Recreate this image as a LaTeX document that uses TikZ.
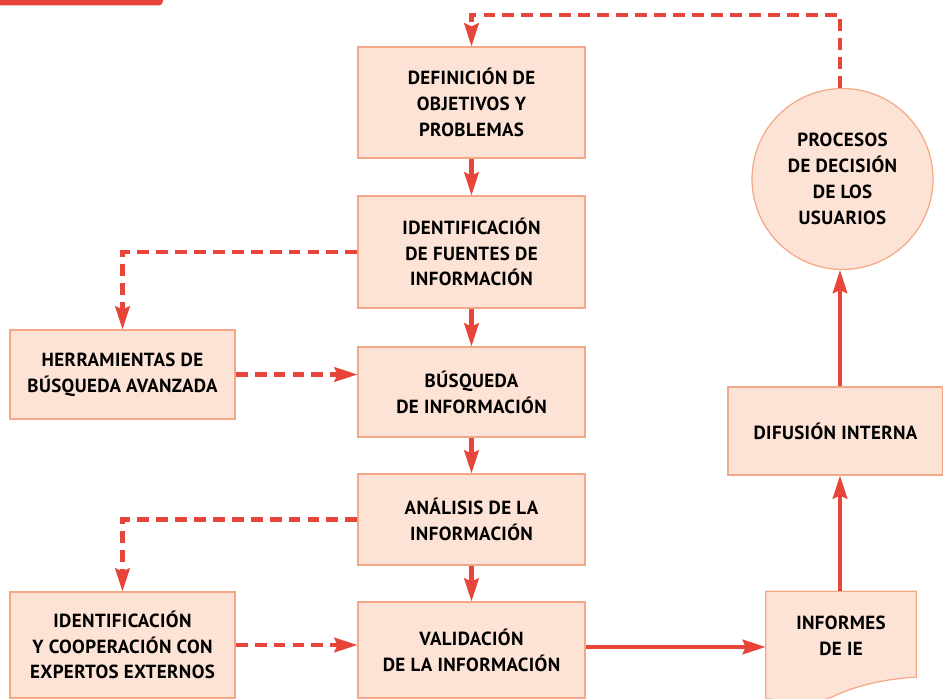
\documentclass[tikz,border=0pt]{standalone}
\usepackage{fontspec}
\setmainfont{PT Sans}[LetterSpace=2]
\usetikzlibrary{arrows.meta}
\definecolor{boxfill}{HTML}{FCE3D5}
\definecolor{boxline}{HTML}{F5A886}
\definecolor{flowred}{HTML}{E8453A}
\begin{document}
\begin{tikzpicture}[x=0.02cm,y=-0.02cm]
    \tikzstyle{stepbox}=[rectangle,draw=boxline,fill=boxfill,line width=0.7pt,align=center,
                         font=\bfseries\fontsize{10.8}{14.7}\selectfont,inner sep=2pt]
    \tikzstyle{line}=[flowred,line width=2.3pt,-{Stealth[length=0.46cm,width=0.29cm,inset=0.06cm]}]
    \tikzstyle{dline}=[line,dash pattern=on 6.8pt off 4pt]
    \useasboundingbox (0,0) rectangle (943,699);
    \fill[flowred] (0,0) -- (163,0) [rounded corners=2.5pt] -- (163,5.5) [sharp corners] -- (0,5.5) -- cycle;

    \node[stepbox, minimum width=4.54cm, minimum height=2.22cm] (def)  at (471.5,102.5) {DEFINICIÓN DE\\OBJETIVOS Y\\PROBLEMAS};
    \node[stepbox, minimum width=4.54cm, minimum height=2.24cm] (fuentes) at (471.5,252) {IDENTIFICACIÓN\\DE FUENTES DE\\INFORMACIÓN};
    \node[stepbox, minimum width=4.54cm, minimum height=1.80cm] (busq) at (471.5,392) {BÚSQUEDA\\DE INFORMACIÓN};
    \node[stepbox, minimum width=4.54cm, minimum height=1.82cm] (anal) at (471.5,519.5) {ANÁLISIS DE LA\\INFORMACIÓN};
    \node[stepbox, minimum width=4.54cm, minimum height=1.92cm] (valid) at (471.5,650) {VALIDACIÓN\\DE LA INFORMACIÓN};

    \node[stepbox, minimum width=4.50cm, minimum height=1.78cm] (herr) at (122.5,374.5) {HERRAMIENTAS DE\\BÚSQUEDA AVANZADA};
    \node[stepbox, minimum width=4.50cm, minimum height=2.12cm] (coop) at (122.5,645) {IDENTIFICACIÓN\\Y COOPERACIÓN CON\\EXPERTOS EXTERNOS};

    \node[stepbox, minimum width=4.30cm, minimum height=1.76cm] (dif) at (835.5,431) {DIFUSIÓN INTERNA};
    \node[stepbox, circle, minimum size=3.62cm] (circ) at (842.5,179) {PROCESOS\\DE DECISIÓN\\DE LOS\\USUARIOS};

    \node[minimum width=3.0cm, minimum height=2.14cm] (inf) at (841,645) {};
    \filldraw[draw=boxline, fill=boxfill, line width=0.7pt] (inf.north west) -- (inf.north east) -- ++(0,86)
        .. controls (880,679) and (850,688) .. (832,697)
        .. controls (812,706) and (785,700) .. (inf.south west) -- cycle;
    \node[align=center, font=\bfseries\fontsize{10.8}{14.7}\selectfont] (inftext) at (841,636) {INFORMES\\DE IE};

    \draw[line] (def) -- (fuentes);
    \draw[line] (fuentes) -- (busq);
    \draw[line] (busq) -- (anal);
    \draw[line] (anal) -- (valid);

    \draw[dline] (fuentes.west) -| (herr.north);
    \draw[dline] (herr.east) -- (herr.east -| busq.west);
    \draw[dline] (anal.west) -| (coop.north);
    \draw[dline] (coop.east) -- (coop.east -| valid.west);

    \draw[line] (valid.east |- 0,647) -- (inf.west |- 0,647);
    \draw[line] (inf.north -| 840,0) -- (dif.south -| 840,0);
    \draw[line] (dif.north -| 840,0) -- (circ.south -| 840,0);

    \coordinate (back) at (471.5,15);
    \draw[dline] (circ.north -| 840,0) |- (back) -- (def.north);
\end{tikzpicture}
\end{document}
